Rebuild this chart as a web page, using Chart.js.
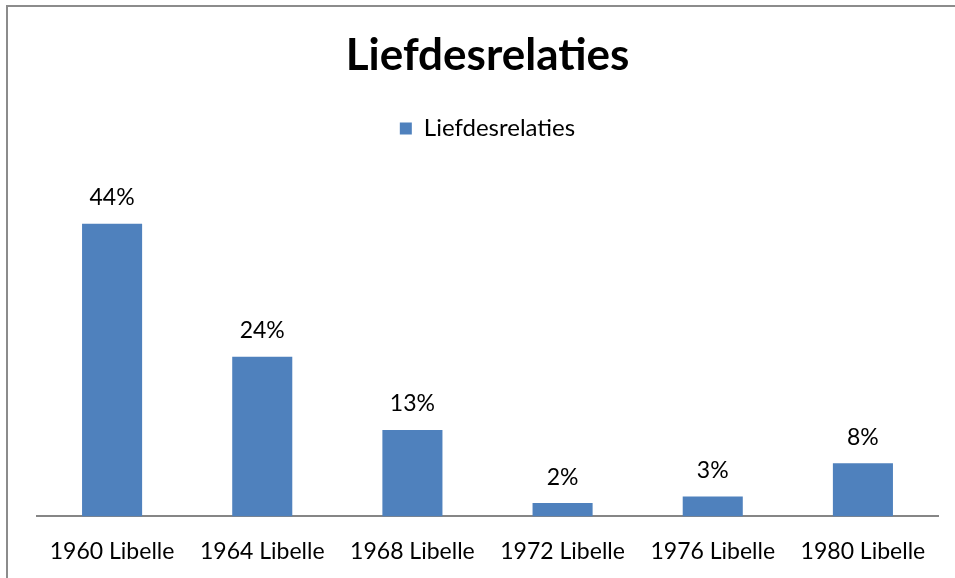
<!DOCTYPE html>
<html>
<head>
<meta charset="utf-8">
<script src="https://cdn.jsdelivr.net/npm/chart.js@4/dist/chart.umd.min.js"></script>
<style>
  body { margin: 0; background: #fff; overflow: hidden; }
  #wrap { position: relative; width: 955px; height: 578px; }
  #frame { position: absolute; left: 6px; top: 5px; width: 980px; height: 600px; border: 2px solid #8c8c8c; box-sizing: border-box; }
  #wrap canvas { position: absolute; left: 0; top: 0; }
</style>
</head>
<body>
<div id="wrap">
  <div id="frame"></div>
  <canvas id="barChart" width="955" height="578"></canvas>
</div>
<script>
var chartTitle = "Liefdesrelaties";
var seriesName = "Liefdesrelaties";
var categories = ["1960 Libelle", "1964 Libelle", "1968 Libelle", "1972 Libelle", "1976 Libelle", "1980 Libelle"];
var values = [44, 24, 13, 2, 3, 8];

// draws the "44%" style labels above each bar
var valueLabels = {
  id: "valueLabels",
  afterDatasetsDraw(chart) {
    var ctx = chart.ctx;
    var meta = chart.getDatasetMeta(0);
    ctx.save();
    ctx.font = "23px Lato";
    ctx.fillStyle = "#000";
    ctx.textAlign = "center";
    ctx.textBaseline = "middle";
    meta.data.forEach((bar, i) => {
      ctx.fillText(values[i] + "%", bar.x, bar.y - 26);
    });
    ctx.restore();
  },
};

var chart = new Chart(document.getElementById("barChart"), {
  type: "bar",
  data: {
    labels: categories,
    datasets: [
      {
        label: seriesName,
        data: values,
        backgroundColor: "#4F81BD",
        borderWidth: 0,
        barPercentage: 0.4,
        categoryPercentage: 1,
      },
    ],
  },
  options: {
    responsive: false,
    animation: false,
    layout: {
      padding: { top: 6, left: 37, right: 17, bottom: -8 },
    },
    plugins: {
      title: {
        display: true,
        text: chartTitle,
        color: "#000",
        font: { family: "Lato", size: 44, weight: "bold" },
        padding: { top: 23.6, bottom: 24.2 },
      },
      legend: {
        display: true,
        labels: {
          color: "#000",
          font: { family: "Lato", size: 24 },
          boxWidth: 12,
          boxHeight: 12,
        },
      },
      tooltip: { enabled: false },
    },
    scales: {
      x: {
        grid: { display: false, drawTicks: false },
        border: { display: true, color: "#868686", width: 2 },
        ticks: {
          color: "#000",
          font: { family: "Lato", size: 23 },
          padding: 21,
          maxRotation: 0,
        },
      },
      y: {
        display: false,
        min: 0,
        max: 55,
      },
    },
  },
  plugins: [valueLabels],
});
</script>
</body>
</html>
